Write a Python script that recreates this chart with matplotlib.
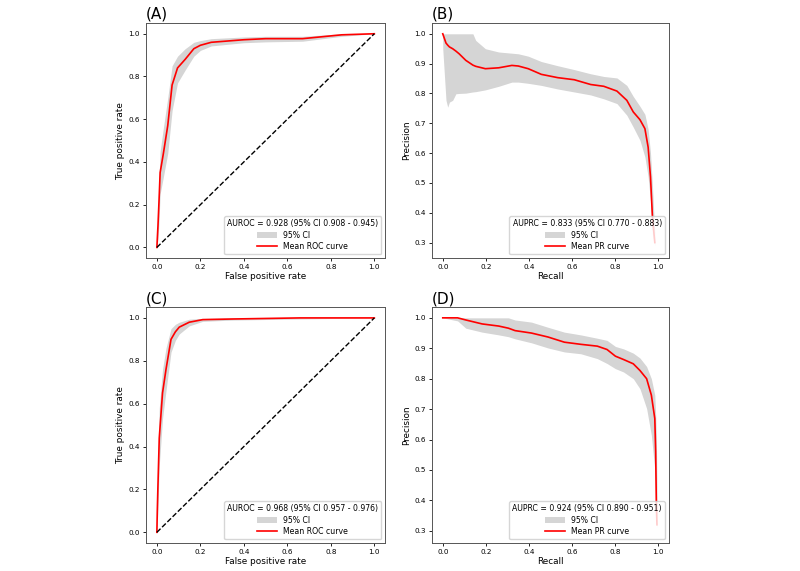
import matplotlib
matplotlib.use("Agg")
import matplotlib.pyplot as plt
import numpy as np

# ---- (A) ROC, model 1 ----
roc_a_fpr = [0, 0.005, 0.01, 0.015, 0.03, 0.05, 0.07, 0.095, 0.13, 0.17, 0.2, 0.25, 0.4, 0.5, 0.67, 0.85, 1.0]
roc_a_tpr = [0, 0.10, 0.22, 0.35, 0.44, 0.57, 0.76, 0.84, 0.88, 0.93, 0.946, 0.96, 0.972, 0.977, 0.977, 0.995, 1.0]
roc_a_hi = [0, 0.18, 0.33, 0.45, 0.56, 0.70, 0.85, 0.895, 0.93, 0.96, 0.968, 0.977, 0.985, 0.988, 0.988, 1.0, 1.0]
roc_a_lo = [0, 0.04, 0.12, 0.25, 0.33, 0.44, 0.64, 0.77, 0.83, 0.895, 0.922, 0.943, 0.958, 0.962, 0.965, 0.988, 1.0]
roc_a_title = "AUROC = 0.928 (95% CI 0.908 - 0.945)"

# ---- (C) ROC, model 2 ----
roc_c_fpr = [0, 0.002, 0.005, 0.011, 0.026, 0.042, 0.065, 0.085, 0.103, 0.149, 0.211, 0.35, 0.657, 0.85, 1.0]
roc_c_tpr = [0, 0.10, 0.22, 0.44, 0.65, 0.76, 0.90, 0.935, 0.957, 0.98, 0.992, 0.995, 1.0, 1.0, 1.0]
roc_c_hi = [0, 0.20, 0.35, 0.58, 0.76, 0.86, 0.95, 0.97, 0.98, 0.994, 0.998, 1.0, 1.0, 1.0, 1.0]
roc_c_lo = [0, 0.04, 0.12, 0.31, 0.53, 0.66, 0.84, 0.895, 0.925, 0.963, 0.984, 0.99, 0.995, 0.998, 1.0]
roc_c_title = "AUROC = 0.968 (95% CI 0.957 - 0.976)"

# ---- (B) PR, model 1 ----
pr_b_rec = [0, 0.015, 0.023, 0.031, 0.046, 0.061, 0.076, 0.107, 0.14, 0.153, 0.198, 0.26, 0.321, 0.351,
            0.397, 0.458, 0.534, 0.611, 0.687, 0.748, 0.809, 0.855, 0.885, 0.916, 0.939, 0.954, 0.965,
            0.974, 0.985]
pr_b_prec = [1.0, 0.969, 0.962, 0.956, 0.95, 0.942, 0.933, 0.911, 0.895, 0.891, 0.883, 0.886, 0.894, 0.892,
             0.883, 0.864, 0.853, 0.846, 0.830, 0.824, 0.808, 0.777, 0.738, 0.712, 0.682, 0.620, 0.520,
             0.386, 0.30]
pr_b_hi = [1.0, 1.0, 1.0, 1.0, 1.0, 1.0, 1.0, 1.0, 1.0, 0.978, 0.950, 0.939, 0.935, 0.933,
           0.925, 0.907, 0.893, 0.880, 0.866, 0.857, 0.852, 0.827, 0.79, 0.757, 0.73, 0.68, 0.60,
           0.49, 0.33]
pr_b_lo = [0.95, 0.777, 0.754, 0.771, 0.777, 0.799, 0.80, 0.801, 0.805, 0.806, 0.812, 0.824, 0.838, 0.838,
           0.834, 0.827, 0.815, 0.805, 0.795, 0.782, 0.766, 0.727, 0.687, 0.643, 0.587, 0.52, 0.44,
           0.33, 0.29]
pr_b_title = "AUPRC = 0.833 (95% CI 0.770 - 0.883)"

# ---- (D) PR, model 2 ----
pr_d_rec = [0, 0.069, 0.107, 0.183, 0.26, 0.305, 0.336, 0.412, 0.489, 0.565, 0.641, 0.718, 0.763, 0.802,
            0.840, 0.885, 0.916, 0.947, 0.969, 0.985, 0.989, 0.992, 0.995]
pr_d_prec = [1.0, 1.0, 0.993, 0.980, 0.973, 0.966, 0.958, 0.950, 0.937, 0.920, 0.913, 0.907, 0.896, 0.874,
             0.863, 0.849, 0.827, 0.800, 0.746, 0.669, 0.560, 0.396, 0.32]
pr_d_hi = [1.0, 1.0, 1.0, 1.0, 1.0, 1.0, 0.993, 0.986, 0.969, 0.953, 0.944, 0.933, 0.926, 0.906,
           0.898, 0.884, 0.868, 0.84, 0.80, 0.746, 0.68, 0.614, 0.45]
pr_d_lo = [1.0, 0.99, 0.966, 0.953, 0.944, 0.938, 0.931, 0.918, 0.901, 0.888, 0.882, 0.866, 0.85, 0.833,
           0.822, 0.800, 0.767, 0.702, 0.614, 0.50, 0.40, 0.33, 0.31]
pr_d_title = "AUPRC = 0.924 (95% CI 0.890 - 0.951)"

TICK_FS = 5.2
LABEL_FS = 6.4
LEG_FS = 5.6
TITLE_FS = 11


def style(ax):
    ax.tick_params(labelsize=TICK_FS, length=2.5, width=0.6, pad=2)
    for s in ax.spines.values():
        s.set_linewidth(0.7)
        s.set_color("#555555")


def draw_roc(ax, fpr, tpr, lo, hi, title, tag):
    ax.fill_between(fpr, lo, hi, color="grey", alpha=0.33, lw=0, label="95% CI")
    ax.plot(fpr, tpr, color="red", lw=1.2, label="Mean ROC curve")
    ax.plot([0, 1], [0, 1], "k--", lw=1.0)
    ax.set_xlim(-0.05, 1.05)
    ax.set_ylim(-0.05, 1.05)
    ax.set_xticks(np.arange(0, 1.01, 0.2))
    ax.set_yticks(np.arange(0, 1.01, 0.2))
    ax.set_xlabel("False positive rate", fontsize=LABEL_FS, labelpad=1)
    ax.set_ylabel("True positive rate", fontsize=LABEL_FS, labelpad=2)
    ax.set_title(tag, loc="left", fontsize=TITLE_FS, pad=3)
    ax.legend(loc="lower right", title=title, fontsize=LEG_FS, title_fontsize=LEG_FS,
              borderpad=0.4, handlelength=2.6, labelspacing=0.3)
    style(ax)


def draw_pr(ax, rec, prec, lo, hi, title, tag, ylim):
    ax.fill_between(rec, lo, hi, color="grey", alpha=0.33, lw=0, label="95% CI")
    ax.plot(rec, prec, color="red", lw=1.2, label="Mean PR curve")
    ax.set_xlim(-0.05, 1.05)
    ax.set_ylim(*ylim)
    ax.set_xticks(np.arange(0, 1.01, 0.2))
    ax.set_yticks(np.arange(0.3, 1.01, 0.1))
    ax.set_xlabel("Recall", fontsize=LABEL_FS, labelpad=1)
    ax.set_ylabel("Precision", fontsize=LABEL_FS, labelpad=2)
    ax.set_title(tag, loc="left", fontsize=TITLE_FS, pad=3)
    ax.legend(loc="lower right", title=title, fontsize=LEG_FS, title_fontsize=LEG_FS,
              borderpad=0.4, handlelength=2.6, labelspacing=0.3)
    style(ax)


fig = plt.figure(figsize=(8, 5.71), dpi=100)
ax_a = fig.add_axes([0.1825, 0.548, 0.299, 0.4116])
ax_b = fig.add_axes([0.540, 0.548, 0.296, 0.4116])
ax_c = fig.add_axes([0.1825, 0.049, 0.299, 0.413])
ax_d = fig.add_axes([0.540, 0.049, 0.296, 0.413])

draw_roc(ax_a, roc_a_fpr, roc_a_tpr, roc_a_lo, roc_a_hi, roc_a_title, "(A)")
draw_pr(ax_b, pr_b_rec, pr_b_prec, pr_b_lo, pr_b_hi, pr_b_title, "(B)", (0.248, 1.036))
draw_roc(ax_c, roc_c_fpr, roc_c_tpr, roc_c_lo, roc_c_hi, roc_c_title, "(C)")
draw_pr(ax_d, pr_d_rec, pr_d_prec, pr_d_lo, pr_d_hi, pr_d_title, "(D)", (0.26, 1.035))

fig.savefig("out.png", dpi=100, facecolor="white")
